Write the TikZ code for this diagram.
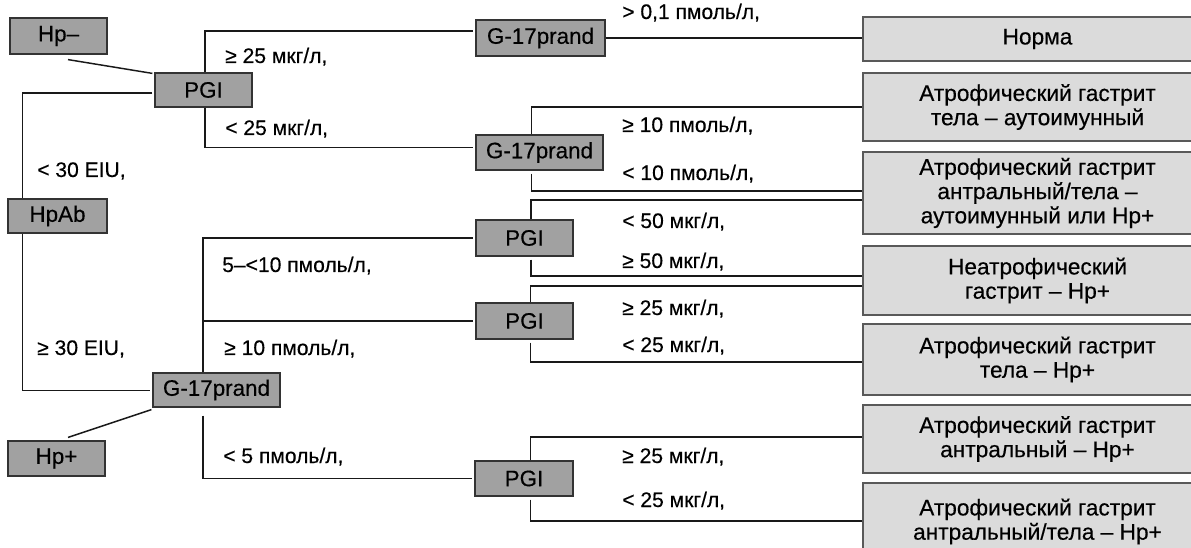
\documentclass[tikz,border=0pt]{standalone}
\usepackage{fontspec}
\setmainfont{Liberation Sans}[FakeBold=0.35]
\usetikzlibrary{calc}
\begin{document}
\begin{tikzpicture}[x=0.75pt,y=-0.75pt,
  darkbox/.style={draw=black!80, line width=0.9pt, fill=black!37, inner sep=0pt,
    font=\fontsize{16.8}{19}\selectfont},
  dk/.style 2 args={darkbox, minimum width=#1*0.75pt, minimum height=#2*0.75pt},
  lightbox/.style={draw=black!65, line width=0.9pt, fill=black!14, inner sep=0pt,
    align=center, font=\fontsize{17}{18.2}\selectfont},
  lt/.style 2 args={lightbox, minimum width=#1*0.75pt, minimum height=#2*0.75pt},
  lbl/.style={anchor=base west, inner sep=0pt, font=\fontsize{15.8}{18}\selectfont},
  wire/.style={line width=1.1pt, black!90}]
\useasboundingbox (0,0) rectangle (1191,548);
\clip (0,0) rectangle (1191,548);
\fill[white] (0,0) rectangle (1191,548);

% test boxes
\node[dk={97}{36}]  (hpm)  at (58.5,36)    {Hp–};
\node[dk={97}{34}]  (pgia) at (203.5,90)   {PGI};
\node[dk={99}{34}]  (hpab) at (57.5,216)   {HpAb};
\node[dk={127}{34}] (gc)   at (216.5,390)  {G-17prand};
\node[dk={97}{35}]  (hpp)  at (56.5,458.5) {Hp+};
\node[dk={129}{36}] (ga)   at (540.5,38)   {G-17prand};
\node[dk={127}{35}] (gb)   at (539.5,152.5){G-17prand};
\node[dk={97}{36}]  (pgib) at (524.5,238)  {PGI};
\node[dk={97}{36}]  (pgic) at (524.5,321)  {PGI};
\node[dk={98}{35}]  (pgid) at (524,478.5)  {PGI};

% diagnoses
\node[lt={349}{44}] (r1) at (1037.5,39)    {Норма};
\node[lt={349}{68}] (r2) at (1037.5,107)   {Атрофический гастрит\\тела – аутоимунный};
\node[lt={349}{82}] (r3) at (1037.5,193)   {Атрофический гастрит\\антральный/тела –\\аутоимунный или Hp+};
\node[lt={349}{69}] (r4) at (1037.5,280.5) {Неатрофический\\гастрит – Hp+};
\node[lt={349}{71}] (r5) at (1037.5,359.5) {Атрофический гастрит\\тела – Hp+};
\node[lt={349}{68}] (r6) at (1037.5,439)   {Атрофический гастрит\\антральный – Hp+};
\node[lt={349}{77}] (r7) at (1037.5,521.5) {Атрофический гастрит\\антральный/тела – Hp+};

% left part of the tree
\draw[wire] ($(hpm.south)+(9.5,5)$) -- ($(pgia.north west)+(-2,1)$);
\draw[wire] ($(pgia.west)+(-2,3)$) -| ($(hpab.north west)+(15,0)$);
\draw[wire] ($(hpab.south west)+(15,0)$) |- ($(gc.west)+(-2,0.5)$);
\draw[wire] ($(hpp.north)+(11.5,-3)$) -- ($(gc.south west)+(-1,2)$);
\draw[wire] ($(pgia.north)+(1.5,0)$) |- ($(ga.west)+(-2,-7)$);
\draw[wire] ($(pgia.south)+(1.5,0)$) |- ($(gb.west)+(-2,-5)$);
\coordinate (trunk) at ($(gc.north)+(-13.5,0)$);
\draw[wire] (trunk) |- ($(pgib.west)+(-2,0)$);
\draw[wire] (pgic.west -| trunk) -- ($(pgic.west)+(-2,0)$);
\draw[wire] ($(gc.south)+(-13.5,8)$) |- ($(pgid.west)+(-2,0)$);

% right part of the tree
\draw[wire] (ga.east) -- (ga.east -| r1.west);
\draw[wire] ($(gb.north)+(-8,0)$) |- (r2.west);
\draw[wire] ($(gb.south)+(-8,3)$) |- ($(r3.west)+(0,-2)$);
\draw[wire] ($(pgib.north)+(6.5,0)$) |- ($(r3.west)+(0,7)$);
\draw[wire] ($(pgib.south)+(6.5,3)$) |- ($(r4.west)+(0,-4.5)$);
\draw[wire] ($(pgic.north)+(6,0)$) |- ($(r4.west)+(0,5.5)$);
\draw[wire] ($(pgic.south)+(6,3)$) |- ($(r5.west)+(0,2.5)$);
\draw[wire] ($(pgid.north)+(6.5,0)$) |- ($(r6.west)+(0,-2)$);
\draw[wire] ($(pgid.south)+(6.5,3)$) |- ($(r7.west)+(0,-0.5)$);

% branch conditions
\node[lbl] (c1)  at (225,63)  {≥ 25 мкг/л,};
\node[lbl] (c2)  at (225,135) {< 25 мкг/л,};
\node[lbl] (c3)  at (37,177)  {< 30  EIU,};
\node[lbl] (c4)  at (37,355)  {≥ 30 EIU,};
\node[lbl] (c5)  at (222,272) {5–<10 пмоль/л,};
\node[lbl] (c6)  at (224,355) {≥ 10 пмоль/л,};
\node[lbl] (c7)  at (223,463) {< 5 пмоль/л,};
\node[lbl] (c8)  at (622,19)  {> 0,1 пмоль/л,};
\node[lbl] (c9)  at (622,132) {≥ 10 пмоль/л,};
\node[lbl] (c10) at (622,180) {< 10 пмоль/л,};
\node[lbl] (c11) at (622,228) {< 50 мкг/л,};
\node[lbl] (c12) at (622,268) {≥ 50 мкг/л,};
\node[lbl] (c13) at (622,315) {≥ 25 мкг/л,};
\node[lbl] (c14) at (622,352) {< 25 мкг/л,};
\node[lbl] (c15) at (622,463) {≥ 25 мкг/л,};
\node[lbl] (c16) at (622,507) {< 25 мкг/л,};
\end{tikzpicture}
\end{document}
